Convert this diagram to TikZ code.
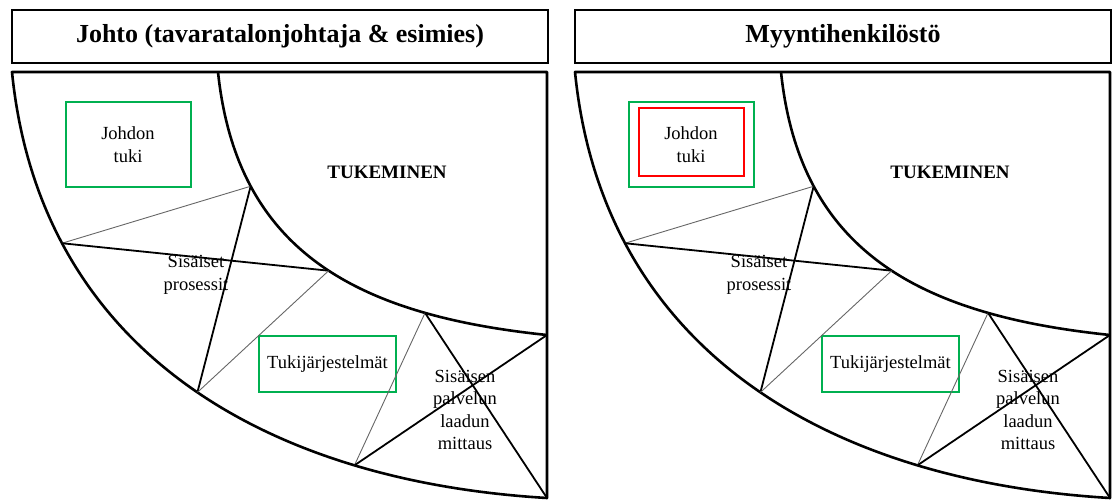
\documentclass[tikz,border=0pt]{standalone}
\usepackage{fontspec}
\setmainfont{Liberation Serif}
\definecolor{boxgreen}{RGB}{0,176,80}
\definecolor{boxred}{RGB}{255,0,0}
\tikzset{
  frame/.style={line width=2.6pt,line join=round},
  heavy/.style={line width=1.8pt},
  light/.style={line width=0.9pt,black!60},
  txt/.style={align=center,inner sep=0pt,font=\fontsize{18.5}{22.5}\selectfont},
  headbox/.style={draw,line width=2.4pt,minimum width=536pt,minimum height=53pt,
    inner sep=0pt,font=\fontsize{26}{30}\selectfont\bfseries},
  greenbox/.style={txt,draw=boxgreen,line width=2pt,minimum width=125pt,minimum height=85pt},
  redbox/.style={draw=boxred,line width=2pt,minimum width=105pt,minimum height=68pt}
}

\begin{document}
\begin{tikzpicture}[x=1pt,y=-1pt]
  \useasboundingbox (0,0) rectangle (1113,502);

  \foreach \p/\dx/\title in {L/0/{Johto (tavaratalonjohtaja \& esimies)},R/563/{Myyntihenkilöstö}}{
  \begin{scope}[xshift=\dx pt]
    % otsikko
    \node[headbox] (head\p) at (280,36.5) {\title};

    % kehys ja ulkokaari
    \draw[frame] (547,498) coordinate (se\p) -- (547,72) coordinate (ne\p)
      -- (12,72) coordinate (nw\p)
      .. controls (39.6,348) and (262,481) .. (se\p)
      coordinate[pos=0.235] (o1\p) coordinate[pos=0.525] (o2\p)
      coordinate[pos=0.76] (o3\p) -- cycle;

    % sisakaari
    \draw[frame] (218,72) coordinate (it\p)
      .. controls (236.9,252) and (357,315.2) .. (547,335) coordinate (ie\p)
      coordinate[pos=0.25] (i1\p) coordinate[pos=0.53] (i2\p)
      coordinate[pos=0.765] (i3\p);

    % tekstit
    \node[txt,font=\fontsize{19}{22}\selectfont\bfseries] (tuk\p) at (387,172) {TUKEMINEN};
    \node[greenbox] (jt\p) at (128,144.5) {Johdon\\tuki};
    \node[greenbox,minimum width=137pt,minimum height=56pt] (tj\p) at (327.5,364) {Tukijärjestelmät};
    \node[txt] (sp\p) at (196,275) {Sisäiset\\prosessit};
    \node[txt] (spm\p) at (465,410) {Sisäisen\\palvelun\\laadun\\mittaus};

    % viivat
    \draw[light] (o1\p) -- (i1\p);
    \draw[heavy] (o1\p) -- (i2\p);
    \draw[heavy] (i1\p) -- (o2\p);
    \draw[light] (i2\p) -- (o2\p);
    \draw[light] (i3\p) -- (o3\p);
    \draw[heavy] (o3\p) -- (ie\p);
    \draw[heavy] (i3\p) -- (se\p);
  \end{scope}
  }

  \node[redbox] (rd) at (691.5,142) {};
\end{tikzpicture}
\end{document}
